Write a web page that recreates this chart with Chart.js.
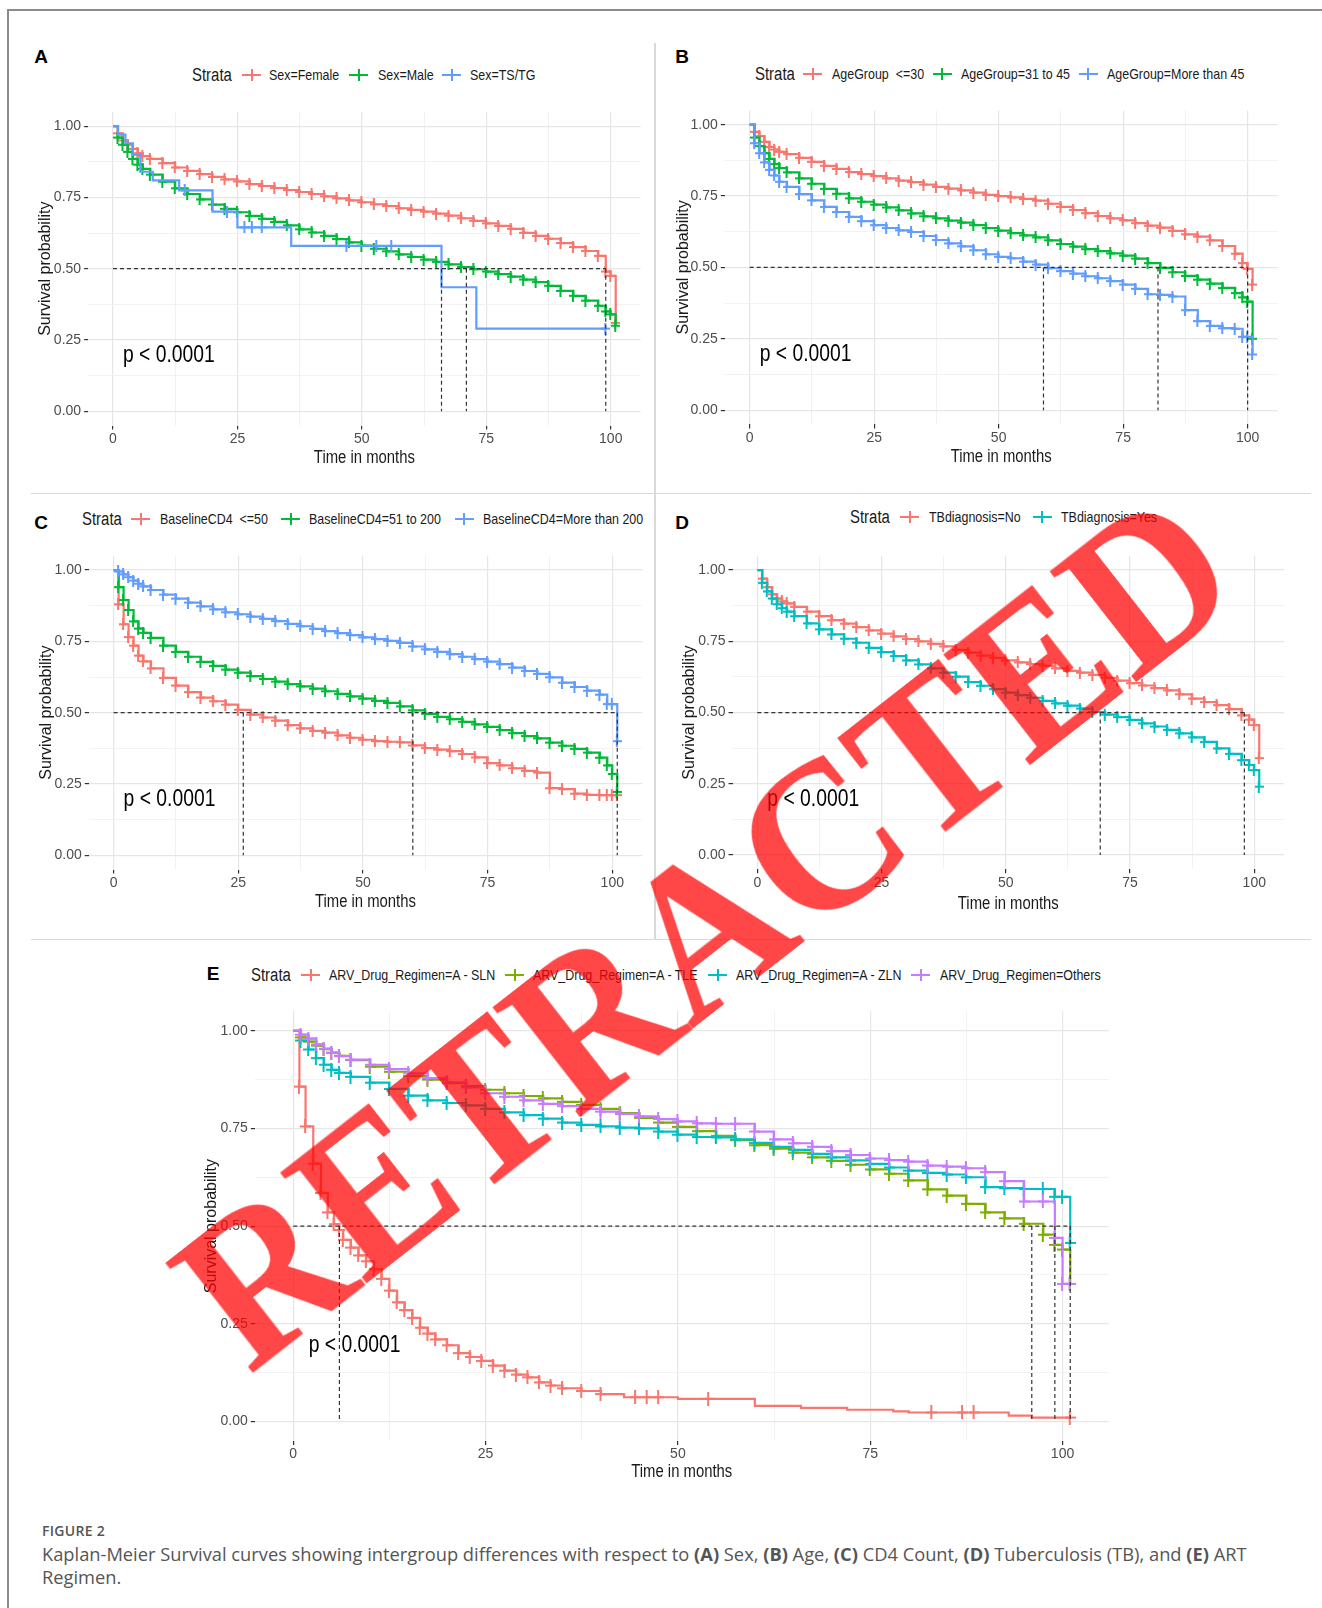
<!DOCTYPE html>
<html>
<head>
<meta charset="utf-8">
<script src="https://cdn.jsdelivr.net/npm/chart.js"></script>
<style>
  body { margin: 0; background: #fff; }
  #page { position: relative; width: 1322px; height: 1608px; overflow: hidden; background: #fff; }
  #page canvas { position: absolute; }
  .abs { position: absolute; white-space: pre; }
  .lab { font: bold 19px "Liberation Sans", Arial, sans-serif; color: #000; transform: translate(-50%, -50%); }
  .leg { font-family: "Liberation Sans", Arial, sans-serif; font-size: 15px; line-height: 18px; color: #1a1a1a;
         transform: translateY(-50%) scaleX(0.83); transform-origin: 0 50%; }
  .legtitle { font-size: 18px; line-height: 22px; }
  .key { position: absolute; width: 19px; height: 12px; }
  .key:before { content: ""; position: absolute; left: 0; right: 0; top: 5px; height: 2px; background: currentColor; }
  .key:after { content: ""; position: absolute; left: 8.5px; top: 0; width: 2px; height: 12px; background: currentColor; }
  .rule { position: absolute; }
  #figlabel { position: absolute; left: 42px; top: 1521px; font: 600 14px "Open Sans", sans-serif; color: #555; letter-spacing: 0.3px; }
  #caption { position: absolute; left: 42px; top: 1542px; font: 18.3px/23px "Open Sans", sans-serif; color: #555; white-space: nowrap; }
  #caption b { font-weight: 700; }
  #stamp { position: absolute; left: 704px; top: 928px; font: bold 202px/1 "Liberation Serif", "Times New Roman", serif;
           color: rgba(255, 0, 0, 0.72); white-space: nowrap; pointer-events: none;
           transform: translate(-50%, -50%) rotate(-38deg) scaleY(1.06); }
</style>
</head>
<body>
<div id="page"></div>
<script>
// shared time grid (months) for the dense curves
const months = [0,1,2,3,4,5,6,7.5,10,12.5,15,17.5,20,22.5,25,27.5,30,32.5,35,37.5,40,42.5,45,47.5,50,52.5,55,57.5,60,62.5,65,67.5,70,72.5,75,77.5,80,82.5,85,87.5,90,92.5,95,97.5,99,100,101];

// A - Sex
const strataA = ['Sex=Female', 'Sex=Male', 'Sex=TS/TG'];
const sexFemale = [1,0.975,0.95,0.935,0.92,0.905,0.895,0.885,0.87,0.855,0.843,0.832,0.822,0.813,0.806,0.797,0.79,0.783,0.776,0.769,0.762,0.754,0.747,0.74,0.733,0.726,0.72,0.712,0.706,0.70,0.693,0.686,0.677,0.668,0.659,0.65,0.64,0.626,0.615,0.605,0.59,0.576,0.562,0.545,0.49,0.475,0.31];
const sexMale = [1,0.96,0.935,0.91,0.885,0.865,0.85,0.83,0.805,0.782,0.762,0.743,0.725,0.71,0.698,0.685,0.675,0.664,0.652,0.638,0.627,0.615,0.604,0.592,0.581,0.57,0.561,0.55,0.541,0.532,0.524,0.515,0.506,0.498,0.49,0.481,0.472,0.462,0.453,0.44,0.422,0.405,0.388,0.37,0.35,0.34,0.30];
const tsTgTime = [0,1,2.5,4,5.5,8,13.3,14.5,20,23,25,26.5,28,30,35.8,47,53,56,66,73,99];
const tsTgSurv = [1,0.97,0.94,0.9,0.84,0.81,0.775,0.775,0.70,0.70,0.645,0.645,0.645,0.645,0.58,0.58,0.58,0.58,0.435,0.29,0.29];
const medianA = [66, 71, 99];

// B - Age group
const strataB = ['AgeGroup  <=30', 'AgeGroup=31 to 45', 'AgeGroup=More than 45'];
const age30 = [1,0.975,0.96,0.94,0.922,0.913,0.905,0.897,0.884,0.87,0.856,0.845,0.834,0.827,0.82,0.812,0.804,0.799,0.79,0.782,0.776,0.77,0.762,0.754,0.75,0.745,0.74,0.734,0.723,0.712,0.701,0.69,0.68,0.672,0.665,0.655,0.646,0.639,0.628,0.616,0.608,0.595,0.575,0.548,0.515,0.495,0.44];
const age31to45 = [1,0.955,0.925,0.9,0.88,0.862,0.848,0.833,0.812,0.793,0.775,0.758,0.742,0.73,0.72,0.71,0.7,0.689,0.679,0.672,0.664,0.657,0.648,0.638,0.629,0.62,0.612,0.605,0.595,0.582,0.573,0.564,0.557,0.549,0.541,0.531,0.515,0.498,0.483,0.47,0.457,0.443,0.428,0.41,0.395,0.38,0.25];
const age45plus = [1,0.935,0.9,0.868,0.842,0.822,0.8,0.782,0.757,0.735,0.712,0.694,0.677,0.662,0.648,0.638,0.63,0.624,0.61,0.596,0.584,0.574,0.56,0.546,0.537,0.532,0.52,0.51,0.497,0.487,0.478,0.469,0.462,0.452,0.44,0.425,0.406,0.404,0.398,0.35,0.312,0.295,0.287,0.285,0.257,0.257,0.195];
const medianB = [59, 82, 100];

// C - baseline CD4
const strataC = ['BaselineCD4  <=50', 'BaselineCD4=51 to 200', 'BaselineCD4=More than 200'];
const cd4Low = [1,0.88,0.81,0.765,0.735,0.7,0.68,0.655,0.622,0.595,0.572,0.553,0.54,0.528,0.51,0.493,0.483,0.472,0.456,0.445,0.436,0.43,0.42,0.412,0.405,0.4,0.398,0.396,0.385,0.376,0.37,0.365,0.355,0.343,0.323,0.315,0.305,0.296,0.29,0.235,0.232,0.216,0.212,0.211,0.211,0.211,0.211];
const cd4Mid = [1,0.94,0.895,0.86,0.82,0.795,0.78,0.762,0.735,0.713,0.696,0.678,0.664,0.651,0.64,0.628,0.618,0.609,0.6,0.592,0.584,0.575,0.566,0.557,0.549,0.541,0.534,0.522,0.508,0.496,0.485,0.477,0.468,0.459,0.45,0.439,0.428,0.418,0.41,0.395,0.384,0.373,0.36,0.342,0.315,0.285,0.222];
const cd4High = [1,0.995,0.985,0.975,0.963,0.952,0.943,0.93,0.914,0.9,0.886,0.873,0.862,0.852,0.845,0.837,0.829,0.821,0.811,0.803,0.794,0.786,0.779,0.772,0.764,0.758,0.752,0.745,0.732,0.722,0.713,0.705,0.696,0.688,0.679,0.67,0.658,0.646,0.636,0.624,0.605,0.59,0.577,0.563,0.53,0.53,0.40];
const medianC = [26, 60, 101];

// D - TB diagnosis
const strataD = ['TBdiagnosis=No', 'TBdiagnosis=Yes'];
const tbNo = [1,0.97,0.94,0.915,0.9,0.89,0.883,0.871,0.854,0.838,0.824,0.812,0.8,0.788,0.777,0.767,0.758,0.75,0.741,0.732,0.72,0.71,0.7,0.692,0.683,0.676,0.67,0.664,0.655,0.646,0.64,0.632,0.622,0.612,0.603,0.595,0.586,0.578,0.564,0.549,0.537,0.526,0.512,0.49,0.475,0.456,0.34];
const tbYes = [1,0.955,0.925,0.9,0.88,0.866,0.854,0.838,0.813,0.792,0.774,0.759,0.745,0.727,0.712,0.698,0.683,0.669,0.655,0.64,0.626,0.607,0.594,0.582,0.57,0.561,0.552,0.541,0.532,0.524,0.514,0.502,0.493,0.484,0.474,0.462,0.451,0.439,0.427,0.413,0.397,0.374,0.355,0.333,0.316,0.298,0.24];
const medianD = [69, 98];

// E - ART regimen
const strataE = ['ARV_Drug_Regimen=A - SLN', 'ARV_Drug_Regimen=A - TLE', 'ARV_Drug_Regimen=A - ZLN', 'ARV_Drug_Regimen=Others'];
const slnTime = [0,0.8,1.6,2.6,3.6,4.5,5.3,6,6.5,7.5,8.5,9.5,10.5,11.5,12.5,13.5,14.5,15.5,16.5,17.5,18.5,20,21.5,23,24.5,26,27.5,29,30.5,32,33.5,35,37.5,40,43,44.5,46,47.5,50,54,60,66,72,78,80,83,87,88.5,93,96,101];
const slnSurv = [1,0.857,0.755,0.66,0.585,0.535,0.505,0.49,0.465,0.445,0.425,0.41,0.39,0.365,0.335,0.305,0.285,0.265,0.24,0.225,0.21,0.195,0.175,0.165,0.155,0.143,0.13,0.12,0.113,0.1,0.092,0.085,0.078,0.07,0.062,0.062,0.062,0.062,0.058,0.058,0.04,0.035,0.03,0.026,0.023,0.023,0.023,0.023,0.015,0.01,0.01];
const tle = [1,0.983,0.972,0.962,0.953,0.944,0.936,0.925,0.908,0.895,0.884,0.875,0.866,0.858,0.849,0.84,0.833,0.827,0.818,0.81,0.8,0.789,0.777,0.765,0.754,0.743,0.731,0.72,0.707,0.698,0.688,0.676,0.667,0.657,0.645,0.634,0.617,0.594,0.578,0.557,0.535,0.52,0.506,0.478,0.452,0.44,0.352];
const zln = [1,0.975,0.952,0.93,0.913,0.9,0.892,0.882,0.867,0.851,0.834,0.822,0.815,0.809,0.8,0.791,0.784,0.775,0.765,0.759,0.755,0.752,0.75,0.742,0.734,0.728,0.727,0.722,0.713,0.703,0.695,0.685,0.676,0.668,0.659,0.65,0.642,0.636,0.632,0.625,0.6,0.597,0.595,0.595,0.575,0.575,0.457];
const others = [1,0.99,0.98,0.965,0.954,0.943,0.935,0.926,0.913,0.902,0.891,0.879,0.868,0.855,0.84,0.831,0.822,0.813,0.807,0.8,0.793,0.787,0.781,0.774,0.768,0.763,0.762,0.762,0.742,0.722,0.712,0.703,0.692,0.682,0.673,0.669,0.665,0.655,0.652,0.648,0.638,0.615,0.563,0.563,0.47,0.352,0.352];
const medianE = [6, 96, 99, 101];

const xTicks = [0, 12.5, 25, 37.5, 50, 62.5, 75, 87.5, 100];
const yTicks = [0, 0.125, 0.25, 0.375, 0.5, 0.625, 0.75, 0.875, 1];
const pvalText = 'p < 0.0001';

const hue3 = ['#F8766D', '#00BA38', '#619CFF'];
const hue2 = ['#F8766D', '#00BFC4'];
const hue4 = ['#F8766D', '#7CAE00', '#00BFC4', '#C77CFF'];

const SANS = '"Liberation Sans", Arial, sans-serif';
const page = document.getElementById('page');

// layout of the five panels (pixel boxes of the plotting areas etc.)
const layout = {
  A: { area: [88.1, 111.9, 640.6, 425.5], yTitleX: 46, xTitleY: 458, letter: [41, 57], mark: [9, 12],
       legY: 75, legTitle: 191.5, legItems: [[242, 269], [349, 377.5], [442, 470]] },
  B: { area: [724.8, 110.4, 1277.5, 424.4], yTitleX: 684, xTitleY: 457.4, letter: [682, 57], mark: [9, 12],
       legY: 74, legTitle: 754.7, legItems: [[803, 831.7], [932.7, 961], [1078.8, 1107]] },
  C: { area: [88.7, 555.8, 642.2, 869.5], yTitleX: 47, xTitleY: 902.5, letter: [41, 523], mark: [9, 12],
       legY: 519, legTitle: 82, legItems: [[131, 160], [281, 309], [454.5, 483]] },
  D: { area: [732.5, 555.8, 1284.1, 869.3], yTitleX: 690, xTitleY: 903.6, letter: [682, 523], mark: [9, 12],
       legY: 516.7, legTitle: 850, legItems: [[900, 928.5], [1032.5, 1060.7]] },
  E: { area: [254.8, 1011.2, 1108.7, 1441], yTitleX: 212, xTitleY: 1471.7, letter: [213, 974], mark: [11, 14],
       legY: 974.5, legTitle: 251, legItems: [[301, 329], [505, 533], [708, 736], [911, 939.5]] }
};

function el(cls, x, y, text) {
  const d = document.createElement('div');
  d.className = 'abs ' + cls;
  d.style.left = x + 'px';
  d.style.top = y + 'px';
  if (text !== undefined) d.textContent = text;
  page.appendChild(d);
  return d;
}

function rule(x, y, w, h, color) {
  const d = document.createElement('div');
  d.className = 'rule';
  Object.assign(d.style, { left: x + 'px', top: y + 'px', width: w + 'px', height: h + 'px', background: color });
  page.appendChild(d);
}

// censoring mark: a "+" a little taller than wide, like the squeezed original
function crossImage(color, w, h) {
  const c = document.createElement('canvas');
  c.width = w; c.height = h;
  const g = c.getContext('2d');
  g.fillStyle = color;
  g.fillRect(Math.floor(w / 2) - 1, 0, 2, h);
  g.fillRect(0, Math.floor(h / 2) - 1, w, 2);
  return c;
}

// crosses on every knot for the dense curves, otherwise only where the curve stays flat (censoring)
function markRadius(ctx) {
  const ds = ctx.dataset, i = ctx.dataIndex;
  if (i === 0) return 0;
  const pt = ds.data[i], prev = ds.data[i - 1];
  if (pt.x <= ds.markAll) return 4;
  return prev.y === pt.y ? 4 : 0;
}

const isMajorX = v => v % 25 === 0;
const isMajorY = v => Math.abs(v * 4 - Math.round(v * 4)) < 1e-9;

// p-value and x-axis title, both drawn horizontally condensed
const textPlugin = {
  id: 'kmText',
  afterDatasetsDraw(chart, args, opts) {
    const { ctx, scales: { x, y }, chartArea } = chart;
    ctx.save();
    ctx.fillStyle = '#000';
    ctx.textBaseline = 'middle';
    ctx.font = '23px ' + SANS;
    ctx.translate(x.getPixelForValue(2), y.getPixelForValue(0.195));
    ctx.scale(0.84, 1);
    ctx.fillText(pvalText, 0, 0);
    ctx.restore();

    ctx.save();
    ctx.fillStyle = '#1a1a1a';
    ctx.textBaseline = 'middle';
    ctx.textAlign = 'center';
    ctx.font = '18px ' + SANS;
    ctx.translate((chartArea.left + chartArea.right) / 2, opts.xTitleY);
    ctx.scale(0.825, 1);
    ctx.fillText('Time in months', 0, 0);
    ctx.restore();
  }
};

function panel(key, labels, colors, series, medians) {
  const p = layout[key];
  const [L, T, R, B] = p.area;
  const yw = 68, xh = 54, padT = 12, padR = 10;
  const cl = Math.floor(L - yw), ct = Math.floor(T - padT);
  const cw = Math.ceil(R + padR) - cl, ch = Math.ceil(B + xh) - ct;

  const cv = document.createElement('canvas');
  cv.width = cw; cv.height = ch;
  cv.style.left = cl + 'px'; cv.style.top = ct + 'px';
  cv.style.width = cw + 'px'; cv.style.height = ch + 'px';
  page.appendChild(cv);

  const datasets = series.map((s, i) => ({
    data: s.t.map((t, j) => ({ x: t, y: s.s[j] })),
    borderColor: colors[i], backgroundColor: colors[i],
    borderWidth: 2.2, stepped: true, fill: false,
    pointStyle: crossImage(colors[i], p.mark[0], p.mark[1]), pointRadius: markRadius,
    markAll: s.markAll,
    order: series.length - i + 1
  }));
  const dash = { borderColor: '#333', borderWidth: 1.2, borderDash: [4, 3], pointRadius: 0, stepped: false, order: 0 };
  datasets.push(Object.assign({ data: [{ x: 0, y: 0.5 }, { x: Math.max(...medians), y: 0.5 }] }, dash));
  medians.forEach(m => datasets.push(Object.assign({ data: [{ x: m, y: 0.5 }, { x: m, y: 0 }] }, dash)));

  new Chart(cv, {
    type: 'line',
    data: { datasets },
    plugins: [textPlugin],
    options: {
      responsive: false, animation: false, devicePixelRatio: 1, events: [],
      layout: { padding: { left: L - yw - cl, top: T - ct, right: cl + cw - R, bottom: ct + ch - B - xh } },
      plugins: { legend: { display: false }, tooltip: { enabled: false }, kmText: { xTitleY: p.xTitleY - ct } },
      scales: {
        x: {
          type: 'linear', min: -5, max: 106,
          afterBuildTicks: s => { s.ticks = xTicks.map(v => ({ value: v })); },
          afterFit: s => { s.height = xh; },
          border: { display: false },
          grid: {
            color: c => (c.tick && isMajorX(c.tick.value)) ? '#e6e6e6' : '#f1f1f1',
            lineWidth: c => (c.tick && isMajorX(c.tick.value)) ? 1.2 : 0.9,
            tickColor: c => (c.tick && isMajorX(c.tick.value)) ? '#333' : 'rgba(0,0,0,0)',
            tickLength: 4
          },
          ticks: {
            autoSkip: false, maxRotation: 0, padding: 1, color: '#4d4d4d',
            font: { family: SANS, size: 14 },
            callback: v => isMajorX(v) ? String(v) : ''
          }
        },
        y: {
          type: 'linear', min: -0.05, max: 1.05,
          afterBuildTicks: s => { s.ticks = yTicks.map(v => ({ value: v })); },
          afterFit: s => { s.width = yw; },
          border: { display: false },
          grid: {
            color: c => (c.tick && isMajorY(c.tick.value)) ? '#e6e6e6' : '#f1f1f1',
            lineWidth: c => (c.tick && isMajorY(c.tick.value)) ? 1.2 : 0.9,
            tickColor: c => (c.tick && isMajorY(c.tick.value)) ? '#333' : 'rgba(0,0,0,0)',
            tickLength: 4
          },
          ticks: {
            autoSkip: false, padding: 3, color: '#4d4d4d',
            font: { family: SANS, size: 14 },
            callback: v => isMajorY(v) ? v.toFixed(2) : ''
          },
          title: {
            display: true, text: 'Survival probability', color: '#1a1a1a',
            font: { family: SANS, size: 16 },
            padding: { top: p.yTitleX - (L - yw) - 9.6, bottom: 0 }
          }
        }
      }
    }
  });

  // panel letter and strata legend
  el('lab', p.letter[0], p.letter[1], key);
  el('leg legtitle', p.legTitle, p.legY, 'Strata');
  labels.forEach((lab, i) => {
    const k = document.createElement('div');
    k.className = 'key';
    k.style.left = p.legItems[i][0] + 'px';
    k.style.top = (p.legY - 6) + 'px';
    k.style.color = colors[i];
    page.appendChild(k);
    el('leg', p.legItems[i][1], p.legY, lab);
  });
}

// frame and panel separators
rule(7, 9, 1315, 2, '#8c8c8c');
rule(7, 9, 2, 1599, '#8c8c8c');
rule(654, 43, 1.5, 896, '#d9d9d9');
rule(31, 492.5, 1280, 1.5, '#d9d9d9');
rule(31, 938.5, 1280, 1.5, '#d9d9d9');

const ALL = 1000;
panel('A', strataA, hue3, [
  { t: months, s: sexFemale, markAll: ALL },
  { t: months, s: sexMale, markAll: ALL },
  { t: tsTgTime, s: tsTgSurv, markAll: -1 }
], medianA);
panel('B', strataB, hue3, [
  { t: months, s: age30, markAll: ALL },
  { t: months, s: age31to45, markAll: ALL },
  { t: months, s: age45plus, markAll: ALL }
], medianB);
panel('C', strataC, hue3, [
  { t: months, s: cd4Low, markAll: ALL },
  { t: months, s: cd4Mid, markAll: ALL },
  { t: months, s: cd4High, markAll: ALL }
], medianC);
panel('D', strataD, hue2, [
  { t: months, s: tbNo, markAll: ALL },
  { t: months, s: tbYes, markAll: ALL }
], medianD);
panel('E', strataE, hue4, [
  { t: slnTime, s: slnSurv, markAll: 40 },
  { t: months, s: tle, markAll: ALL },
  { t: months, s: zln, markAll: ALL },
  { t: months, s: others, markAll: ALL }
], medianE);

// caption
const fl = document.createElement('div');
fl.id = 'figlabel'; fl.textContent = 'FIGURE 2';
page.appendChild(fl);
const cap = document.createElement('div');
cap.id = 'caption';
cap.innerHTML = 'Kaplan-Meier Survival curves showing intergroup differences with respect to <b>(A)</b> Sex, <b>(B)</b> Age, <b>(C)</b> CD4 Count, <b>(D)</b> Tuberculosis (TB), and <b>(E)</b> ART<br>Regimen.';
page.appendChild(cap);

// retraction stamp on top of everything
const stamp = document.createElement('div');
stamp.id = 'stamp';
stamp.textContent = 'RETRACTED';
page.appendChild(stamp);
</script>
</body>
</html>
